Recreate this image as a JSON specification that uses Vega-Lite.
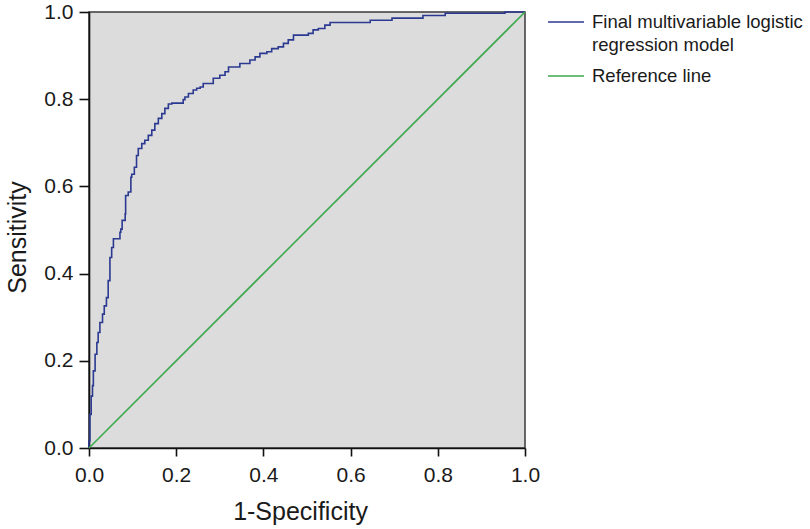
{
  "$schema": "https://vega.github.io/schema/vega-lite/v6.json",
  "autosize": "none",
  "width": 436,
  "height": 436,
  "padding": {"left": 89, "top": 12, "right": 285, "bottom": 81},
  "background": "white",
  "config": {
    "font": "Liberation Sans",
    "view": {"fill": "#dcdcdc", "stroke": "#3a3a3a", "strokeWidth": 1.5},
    "axis": {
      "grid": false,
      "domainColor": "#111",
      "domainWidth": 1.6,
      "tickColor": "#111",
      "tickWidth": 1.6,
      "labelFontSize": 21,
      "labelColor": "#1a1a1a",
      "labelFlush": false,
      "titleFontSize": 25,
      "titleFontWeight": "normal",
      "titleColor": "#1a1a1a"
    }
  },
  "datasets": {
    "roc": [
      {"fpr": 0, "tpr": 0, "series": "Final multivariable logistic regression model"},
      {"fpr": 0.002, "tpr": 0.016, "series": "Final multivariable logistic regression model"},
      {"fpr": 0.002, "tpr": 0.070, "series": "Final multivariable logistic regression model"},
      {"fpr": 0.005, "tpr": 0.077, "series": "Final multivariable logistic regression model"},
      {"fpr": 0.005, "tpr": 0.108, "series": "Final multivariable logistic regression model"},
      {"fpr": 0.008, "tpr": 0.119, "series": "Final multivariable logistic regression model"},
      {"fpr": 0.008, "tpr": 0.135, "series": "Final multivariable logistic regression model"},
      {"fpr": 0.010, "tpr": 0.143, "series": "Final multivariable logistic regression model"},
      {"fpr": 0.010, "tpr": 0.162, "series": "Final multivariable logistic regression model"},
      {"fpr": 0.014, "tpr": 0.177, "series": "Final multivariable logistic regression model"},
      {"fpr": 0.014, "tpr": 0.208, "series": "Final multivariable logistic regression model"},
      {"fpr": 0.018, "tpr": 0.215, "series": "Final multivariable logistic regression model"},
      {"fpr": 0.018, "tpr": 0.230, "series": "Final multivariable logistic regression model"},
      {"fpr": 0.021, "tpr": 0.242, "series": "Final multivariable logistic regression model"},
      {"fpr": 0.021, "tpr": 0.253, "series": "Final multivariable logistic regression model"},
      {"fpr": 0.025, "tpr": 0.265, "series": "Final multivariable logistic regression model"},
      {"fpr": 0.025, "tpr": 0.276, "series": "Final multivariable logistic regression model"},
      {"fpr": 0.031, "tpr": 0.288, "series": "Final multivariable logistic regression model"},
      {"fpr": 0.031, "tpr": 0.299, "series": "Final multivariable logistic regression model"},
      {"fpr": 0.035, "tpr": 0.307, "series": "Final multivariable logistic regression model"},
      {"fpr": 0.035, "tpr": 0.315, "series": "Final multivariable logistic regression model"},
      {"fpr": 0.040, "tpr": 0.326, "series": "Final multivariable logistic regression model"},
      {"fpr": 0.040, "tpr": 0.338, "series": "Final multivariable logistic regression model"},
      {"fpr": 0.044, "tpr": 0.345, "series": "Final multivariable logistic regression model"},
      {"fpr": 0.048, "tpr": 0.384, "series": "Final multivariable logistic regression model"},
      {"fpr": 0.048, "tpr": 0.430, "series": "Final multivariable logistic regression model"},
      {"fpr": 0.052, "tpr": 0.437, "series": "Final multivariable logistic regression model"},
      {"fpr": 0.052, "tpr": 0.453, "series": "Final multivariable logistic regression model"},
      {"fpr": 0.056, "tpr": 0.460, "series": "Final multivariable logistic regression model"},
      {"fpr": 0.056, "tpr": 0.476, "series": "Final multivariable logistic regression model"},
      {"fpr": 0.061, "tpr": 0.480, "series": "Final multivariable logistic regression model"},
      {"fpr": 0.071, "tpr": 0.480, "series": "Final multivariable logistic regression model"},
      {"fpr": 0.073, "tpr": 0.495, "series": "Final multivariable logistic regression model"},
      {"fpr": 0.076, "tpr": 0.502, "series": "Final multivariable logistic regression model"},
      {"fpr": 0.076, "tpr": 0.514, "series": "Final multivariable logistic regression model"},
      {"fpr": 0.083, "tpr": 0.522, "series": "Final multivariable logistic regression model"},
      {"fpr": 0.084, "tpr": 0.537, "series": "Final multivariable logistic regression model"},
      {"fpr": 0.084, "tpr": 0.564, "series": "Final multivariable logistic regression model"},
      {"fpr": 0.090, "tpr": 0.579, "series": "Final multivariable logistic regression model"},
      {"fpr": 0.096, "tpr": 0.587, "series": "Final multivariable logistic regression model"},
      {"fpr": 0.098, "tpr": 0.621, "series": "Final multivariable logistic regression model"},
      {"fpr": 0.104, "tpr": 0.628, "series": "Final multivariable logistic regression model"},
      {"fpr": 0.104, "tpr": 0.644, "series": "Final multivariable logistic regression model"},
      {"fpr": 0.109, "tpr": 0.644, "series": "Final multivariable logistic regression model"},
      {"fpr": 0.113, "tpr": 0.671, "series": "Final multivariable logistic regression model"},
      {"fpr": 0.121, "tpr": 0.687, "series": "Final multivariable logistic regression model"},
      {"fpr": 0.128, "tpr": 0.698, "series": "Final multivariable logistic regression model"},
      {"fpr": 0.136, "tpr": 0.706, "series": "Final multivariable logistic regression model"},
      {"fpr": 0.144, "tpr": 0.717, "series": "Final multivariable logistic regression model"},
      {"fpr": 0.151, "tpr": 0.729, "series": "Final multivariable logistic regression model"},
      {"fpr": 0.159, "tpr": 0.744, "series": "Final multivariable logistic regression model"},
      {"fpr": 0.167, "tpr": 0.756, "series": "Final multivariable logistic regression model"},
      {"fpr": 0.174, "tpr": 0.767, "series": "Final multivariable logistic regression model"},
      {"fpr": 0.182, "tpr": 0.779, "series": "Final multivariable logistic regression model"},
      {"fpr": 0.190, "tpr": 0.789, "series": "Final multivariable logistic regression model"},
      {"fpr": 0.197, "tpr": 0.791, "series": "Final multivariable logistic regression model"},
      {"fpr": 0.216, "tpr": 0.791, "series": "Final multivariable logistic regression model"},
      {"fpr": 0.220, "tpr": 0.799, "series": "Final multivariable logistic regression model"},
      {"fpr": 0.228, "tpr": 0.805, "series": "Final multivariable logistic regression model"},
      {"fpr": 0.239, "tpr": 0.813, "series": "Final multivariable logistic regression model"},
      {"fpr": 0.247, "tpr": 0.821, "series": "Final multivariable logistic regression model"},
      {"fpr": 0.255, "tpr": 0.825, "series": "Final multivariable logistic regression model"},
      {"fpr": 0.262, "tpr": 0.828, "series": "Final multivariable logistic regression model"},
      {"fpr": 0.262, "tpr": 0.836, "series": "Final multivariable logistic regression model"},
      {"fpr": 0.285, "tpr": 0.836, "series": "Final multivariable logistic regression model"},
      {"fpr": 0.285, "tpr": 0.848, "series": "Final multivariable logistic regression model"},
      {"fpr": 0.300, "tpr": 0.848, "series": "Final multivariable logistic regression model"},
      {"fpr": 0.300, "tpr": 0.855, "series": "Final multivariable logistic regression model"},
      {"fpr": 0.312, "tpr": 0.855, "series": "Final multivariable logistic regression model"},
      {"fpr": 0.312, "tpr": 0.863, "series": "Final multivariable logistic regression model"},
      {"fpr": 0.320, "tpr": 0.863, "series": "Final multivariable logistic regression model"},
      {"fpr": 0.320, "tpr": 0.874, "series": "Final multivariable logistic regression model"},
      {"fpr": 0.346, "tpr": 0.874, "series": "Final multivariable logistic regression model"},
      {"fpr": 0.346, "tpr": 0.882, "series": "Final multivariable logistic regression model"},
      {"fpr": 0.369, "tpr": 0.882, "series": "Final multivariable logistic regression model"},
      {"fpr": 0.369, "tpr": 0.890, "series": "Final multivariable logistic regression model"},
      {"fpr": 0.381, "tpr": 0.890, "series": "Final multivariable logistic regression model"},
      {"fpr": 0.381, "tpr": 0.897, "series": "Final multivariable logistic regression model"},
      {"fpr": 0.392, "tpr": 0.897, "series": "Final multivariable logistic regression model"},
      {"fpr": 0.392, "tpr": 0.905, "series": "Final multivariable logistic regression model"},
      {"fpr": 0.408, "tpr": 0.905, "series": "Final multivariable logistic regression model"},
      {"fpr": 0.408, "tpr": 0.909, "series": "Final multivariable logistic regression model"},
      {"fpr": 0.419, "tpr": 0.909, "series": "Final multivariable logistic regression model"},
      {"fpr": 0.419, "tpr": 0.916, "series": "Final multivariable logistic regression model"},
      {"fpr": 0.434, "tpr": 0.916, "series": "Final multivariable logistic regression model"},
      {"fpr": 0.434, "tpr": 0.920, "series": "Final multivariable logistic regression model"},
      {"fpr": 0.446, "tpr": 0.920, "series": "Final multivariable logistic regression model"},
      {"fpr": 0.446, "tpr": 0.928, "series": "Final multivariable logistic regression model"},
      {"fpr": 0.457, "tpr": 0.928, "series": "Final multivariable logistic regression model"},
      {"fpr": 0.457, "tpr": 0.936, "series": "Final multivariable logistic regression model"},
      {"fpr": 0.469, "tpr": 0.936, "series": "Final multivariable logistic regression model"},
      {"fpr": 0.469, "tpr": 0.947, "series": "Final multivariable logistic regression model"},
      {"fpr": 0.503, "tpr": 0.947, "series": "Final multivariable logistic regression model"},
      {"fpr": 0.503, "tpr": 0.951, "series": "Final multivariable logistic regression model"},
      {"fpr": 0.514, "tpr": 0.951, "series": "Final multivariable logistic regression model"},
      {"fpr": 0.514, "tpr": 0.959, "series": "Final multivariable logistic regression model"},
      {"fpr": 0.526, "tpr": 0.959, "series": "Final multivariable logistic regression model"},
      {"fpr": 0.526, "tpr": 0.962, "series": "Final multivariable logistic regression model"},
      {"fpr": 0.541, "tpr": 0.962, "series": "Final multivariable logistic regression model"},
      {"fpr": 0.541, "tpr": 0.970, "series": "Final multivariable logistic regression model"},
      {"fpr": 0.553, "tpr": 0.970, "series": "Final multivariable logistic regression model"},
      {"fpr": 0.553, "tpr": 0.976, "series": "Final multivariable logistic regression model"},
      {"fpr": 0.645, "tpr": 0.976, "series": "Final multivariable logistic regression model"},
      {"fpr": 0.645, "tpr": 0.981, "series": "Final multivariable logistic regression model"},
      {"fpr": 0.695, "tpr": 0.981, "series": "Final multivariable logistic regression model"},
      {"fpr": 0.695, "tpr": 0.986, "series": "Final multivariable logistic regression model"},
      {"fpr": 0.766, "tpr": 0.986, "series": "Final multivariable logistic regression model"},
      {"fpr": 0.766, "tpr": 0.992, "series": "Final multivariable logistic regression model"},
      {"fpr": 0.817, "tpr": 0.992, "series": "Final multivariable logistic regression model"},
      {"fpr": 0.817, "tpr": 0.997, "series": "Final multivariable logistic regression model"},
      {"fpr": 0.954, "tpr": 0.997, "series": "Final multivariable logistic regression model"},
      {"fpr": 0.954, "tpr": 1.0, "series": "Final multivariable logistic regression model"},
      {"fpr": 1.0, "tpr": 1.0, "series": "Final multivariable logistic regression model"},
      {"fpr": 0, "tpr": 0, "series": "Reference line"},
      {"fpr": 1, "tpr": 1, "series": "Reference line"}
    ]
  },
  "data": {"name": "roc"},
  "encoding": {
    "x": {
      "field": "fpr", "type": "quantitative", "title": "1-Specificity",
      "scale": {"domain": [0, 1], "nice": false, "zero": false},
      "axis": {"values": [0, 0.2, 0.4, 0.6, 0.8, 1.0], "format": ".1f", "tickSize": 8, "labelPadding": 8, "titlePadding": 14, "titleX": 211}
    },
    "y": {
      "field": "tpr", "type": "quantitative", "title": "Sensitivity",
      "scale": {"domain": [0, 1], "nice": false, "zero": false},
      "axis": {"values": [0, 0.2, 0.4, 0.6, 0.8, 1.0], "format": ".1f", "tickSize": 10, "labelPadding": 6, "titlePadding": 13, "titleY": 225}
    },
    "color": {
      "field": "series", "type": "nominal",
      "scale": {"domain": ["Final multivariable logistic regression model", "Reference line"], "range": ["#2B3990", "#3DA84E"]},
      "legend": {
        "title": null,
        "orient": "none",
        "legendX": 458,
        "legendY": -9,
        "symbolType": "stroke",
        "symbolSize": 1296,
        "symbolStrokeWidth": 1.6,
        "labelFontSize": 18.5,
        "labelColor": "#1a1a1a",
        "labelOffset": 7,
        "labelLimit": 300,
        "labelBaseline": "middle",
        "rowPadding": 2,
        "labelExpr": "datum.label == 'Reference line' ? ['Reference line', ''] : ['Final multivariable logistic', 'regression model']",
        "encode": {"labels": {"update": {"lineHeight": {"value": 23}}}}
      }
    },
    "order": {"field": "fpr"}
  },
  "layer": [
    {
      "transform": [{"filter": "datum.series != 'Reference line'"}],
      "mark": {"type": "line", "strokeWidth": 1.6, "interpolate": "step-before", "clip": false}
    },
    {
      "transform": [{"filter": "datum.series == 'Reference line'"}],
      "mark": {"type": "line", "strokeWidth": 1.6, "clip": false}
    }
  ]
}
